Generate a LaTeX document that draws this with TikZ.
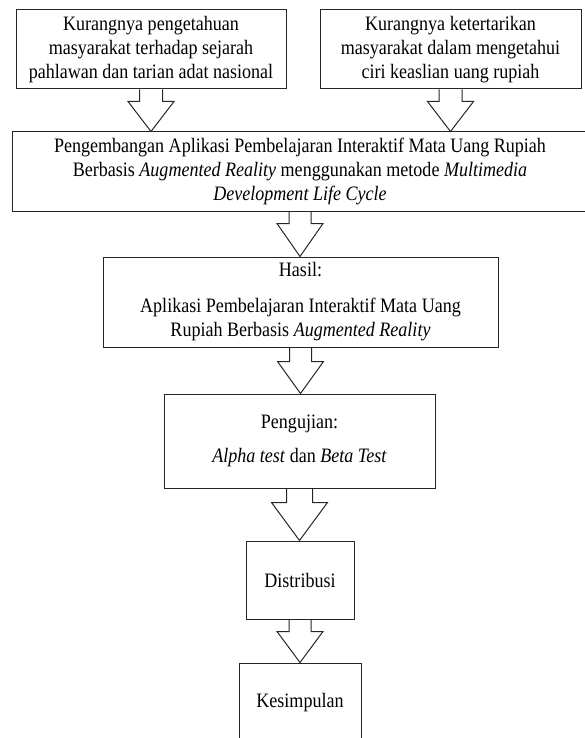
\documentclass[tikz,border=0pt]{standalone}
\usepackage{fontspec}
\setmainfont{Liberation Serif}[FakeStretch=0.88]
\usetikzlibrary{calc}

\tikzset{
  box/.style={draw=black!85, line width=1pt, rectangle, align=center,
              inner sep=0pt, font=\fontsize{20.5}{24}\selectfont},
  flow/.style={draw=black!85, line width=1pt, line join=miter}
}

% hollow block arrow from the bottom of #1 to the top of #2
% #3 half shaft width, #4 half head width, #5 head length
\newcommand\fatarrow[5]{%
  \draw[flow] ($(#1.south)+(-#3,0)$)
    -- ($(#1.south |- #2.north)+(-#3,#5)$)
    -- ($(#1.south |- #2.north)+(-#4,#5)$)
    -- (#1.south |- #2.north)
    -- ($(#1.south |- #2.north)+(#4,#5)$)
    -- ($(#1.south |- #2.north)+(#3,#5)$)
    -- ($(#1.south)+(#3,0)$);}

\begin{document}
\begin{tikzpicture}[x=1pt,y=1pt]
\useasboundingbox (0,0) rectangle (585,-738);
\clip (0,0) rectangle (585,-738);

\node[box, minimum width=270, minimum height=79] (prob1) at (151,-49.5)
  {Kurangnya pengetahuan\\ masyarakat terhadap sejarah\\ pahlawan dan tarian adat nasional};
\node[box, minimum width=261, minimum height=79] (prob2) at (450.5,-49.5)
  {Kurangnya ketertarikan\\ masyarakat dalam mengetahui\\ ciri keaslian uang rupiah};

\node[box, minimum width=576, minimum height=79] (dev) at (300,-171.5)
  {Pengembangan Aplikasi Pembelajaran Interaktif Mata Uang Rupiah\\
   Berbasis \textit{Augmented Reality} menggunakan metode \textit{Multimedia}\\
   \textit{Development Life Cycle}};

\node[box, minimum width=395, minimum height=90] (hasil) at (300.5,-302)
  {Hasil:\\[12pt] Aplikasi Pembelajaran Interaktif Mata Uang\\
   Rupiah Berbasis \textit{Augmented Reality}};

\node[box, minimum width=271, minimum height=94] (uji) at (299.5,-441)
  {Pengujian:\\[10pt] \textit{Alpha test} dan \textit{Beta Test}};

\node[box, minimum width=108, minimum height=78] (dist) at (300,-580)
  {Distribusi};

\node[box, minimum width=122, minimum height=80] (kes) at (300,-703)
  {Kesimpulan};

\fatarrow{prob1}{dev}{11.5}{23}{30}
\fatarrow{prob2}{dev}{11.5}{23}{30}
\fatarrow{dev}{hasil}{11}{23}{33}
\fatarrow{hasil}{uji}{11}{23}{32}
\fatarrow{uji}{dist}{13}{28}{38}
\fatarrow{dist}{kes}{11}{23}{31}
\end{tikzpicture}
\end{document}
